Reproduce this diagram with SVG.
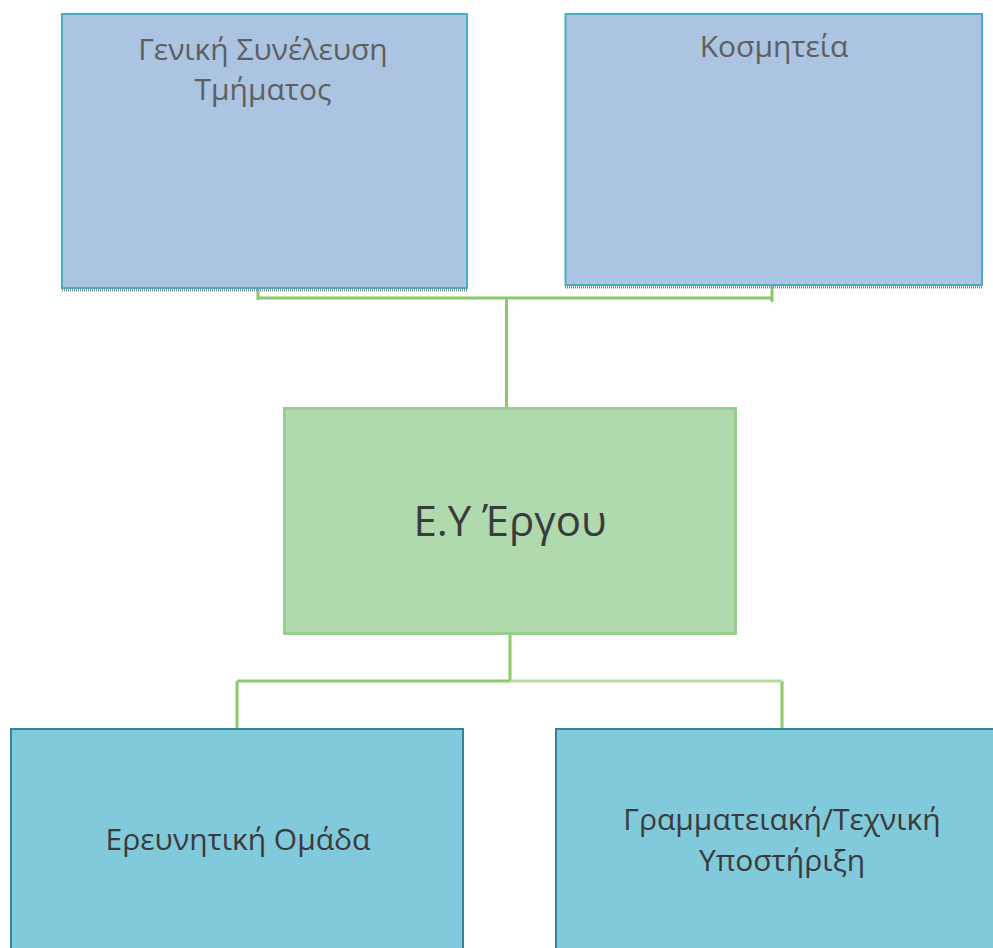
<svg xmlns="http://www.w3.org/2000/svg" width="993" height="948" viewBox="0 0 993 948">
<style>
.top{fill:#abc4e2;stroke:#4bacc6;stroke-width:2}
.mid{fill:#b0d9ad;stroke:#98cf90;stroke-width:3}
.bot{fill:#80cadb;stroke:#31849b;stroke-width:2}
.shadow{stroke:#8a8a8a;stroke-width:3;stroke-dasharray:1 1}
.conn{fill:none;stroke:#8bc96a;stroke-width:3}
text{font-family:"Open Sans","Noto Sans","DejaVu Sans",sans-serif;text-anchor:middle}
.tl{fill:#5f5f5f;font-size:30px}
.bl{fill:#3b3b3b;font-size:30px}
.ml{fill:#393c3e;font-size:42px}
</style>
<g id="connectors">
<path class="conn" d="M258,275 V300 M258,298 H772 M772,273 V302 M506.5,298 V411"/>
<path class="conn" d="M510,634 V681 M237,681 H510 M237,681 V729 M782,681 V729"/>
<path class="conn" style="stroke:#b6dba5" d="M510,681 H782"/>
</g>
<g id="node-geniki">
<line class="shadow" x1="62" y1="290" x2="467" y2="290"/>
<rect class="top" x="62" y="14" width="405" height="274"/>
<text class="tl" x="263" y="60">Γενική Συνέλευση</text>
<text class="tl" x="263" y="100">Τμήματος</text>
</g>
<g id="node-kosmiteia">
<line class="shadow" x1="565" y1="287" x2="982" y2="287"/>
<rect class="top" x="565.5" y="14" width="416.5" height="271"/>
<text class="tl" x="774" y="57">Κοσμητεία</text>
</g>
<g id="node-ey">
<rect class="mid" x="284.5" y="408.5" width="451" height="225"/>
<text class="ml" x="510" y="536">Ε.Υ Έργου</text>
</g>
<g id="node-omada">
<rect class="bot" x="11" y="729" width="452" height="222"/>
<text class="bl" x="238" y="850">Ερευνητική Ομάδα</text>
</g>
<g id="node-grammateia">
<rect class="bot" x="556" y="729" width="442" height="222"/>
<text class="bl" x="782" y="830">Γραμματειακή/Τεχνική</text>
<text class="bl" x="782" y="871">Υποστήριξη</text>
</g>
</svg>
